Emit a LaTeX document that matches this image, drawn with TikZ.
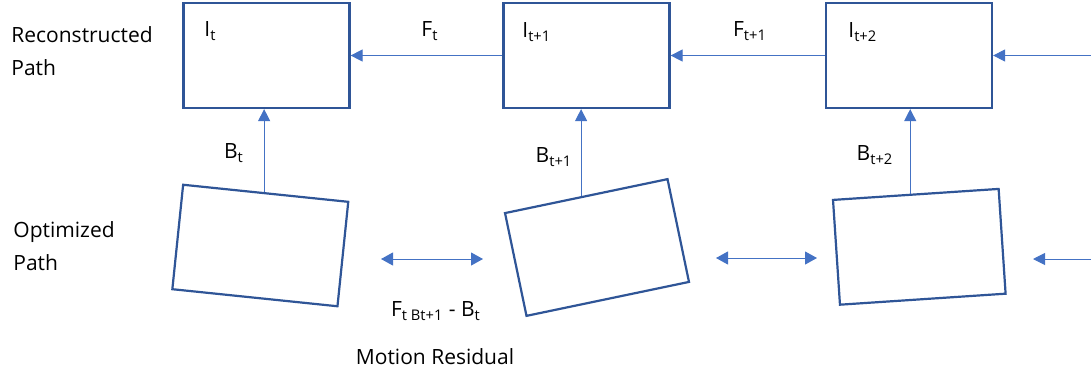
\documentclass[tikz,border=0pt]{standalone}
\usepackage{fontspec}
\setmainfont{Open Sans}
\usetikzlibrary{arrows.meta,calc}
\definecolor{boxblue}{HTML}{2F5597}
\definecolor{arrblue}{HTML}{4472C4}

\begin{document}
\begin{tikzpicture}[
  x=0.5pt,y=-0.5pt,
  font=\fontsize{10.5}{16.5}\selectfont,
  frame/.style={draw=boxblue,line width=1.1pt,fill=white,minimum width=83pt,minimum height=52.5pt,inner sep=0pt},
  e/.style={-{Triangle[length=6pt,width=6pt]},color=arrblue,line width=0.5pt},
  ee/.style={{Triangle[length=6pt,width=6.5pt]}-{Triangle[length=6pt,width=6.5pt]},color=arrblue,line width=0.5pt},
  lbl/.style={inner sep=0pt}]
  \useasboundingbox (0,0) rectangle (1091,376);
  \node[lbl,anchor=west,align=left] (rec) at (11,51) {Reconstructed\\Path};
  \node[lbl,anchor=west,align=left] (opt) at (13,246) {Optimized\\Path};
  \node[frame] (r1) at (266.5,55.5) {};
  \node[frame] (r2) at (586.5,55.5) {};
  \node[frame] (r3) at (909,55.5) {};
  \node[frame,rotate=-5.9] (o1) at (260.3,245.5) {};
  \node[frame,rotate=11.8] (o2) at (597,247.5) {};
  \node[frame,rotate=3.8] (o3) at (919.3,246.8) {};
  \node[lbl,anchor=west] (i1) at (204,31) {I\textsubscript{t}};
  \node[lbl,anchor=west] (i2) at (522,32) {I\textsubscript{t+1}};
  \node[lbl,anchor=west] (i3) at (848,32) {I\textsubscript{t+2}};
  \node[lbl] (f1) at (430,31) {F\textsubscript{t}};
  \node[lbl] (f2) at (750,31) {F\textsubscript{t+1}};
  \node[lbl] (b1) at (234,153) {B\textsubscript{t}};
  \node[lbl] (b2) at (554,157) {B\textsubscript{t+1}};
  \node[lbl] (b3) at (875,155) {B\textsubscript{t+2}};
  \node[lbl] (res) at (436,311) {F\textsubscript{t Bt+1} - B\textsubscript{t}};
  \node[lbl] (mot) at (435,357) {Motion Residual};
  \coordinate (inR) at (1091,55.5);
  \coordinate (inO) at (1091,259);
  \coordinate (tipO) at (1033,259);
  \coordinate (m1a) at (381,259);
  \coordinate (m1b) at (483,259);
  \coordinate (m2a) at (716,258);
  \coordinate (m2b) at (817,258);
  \draw[e] (r2.west) -- (r1.east);
  \draw[e] (r3.west) -- (r2.east);
  \draw[e] (inR) -- (r3.east);
  \foreach \n/\p in {1/0.49,2/0.47,3/0.467} {
    \coordinate (top\n) at ($(o\n.north west)!\p!(o\n.north east)$);
    \draw[e] (top\n) -- (top\n |- r\n.south);
  }
  \draw[ee] (m1a) -- (m1b);
  \draw[ee] (m2a) -- (m2b);
  \draw[e] (inO) -- (tipO);
\end{tikzpicture}
\end{document}
